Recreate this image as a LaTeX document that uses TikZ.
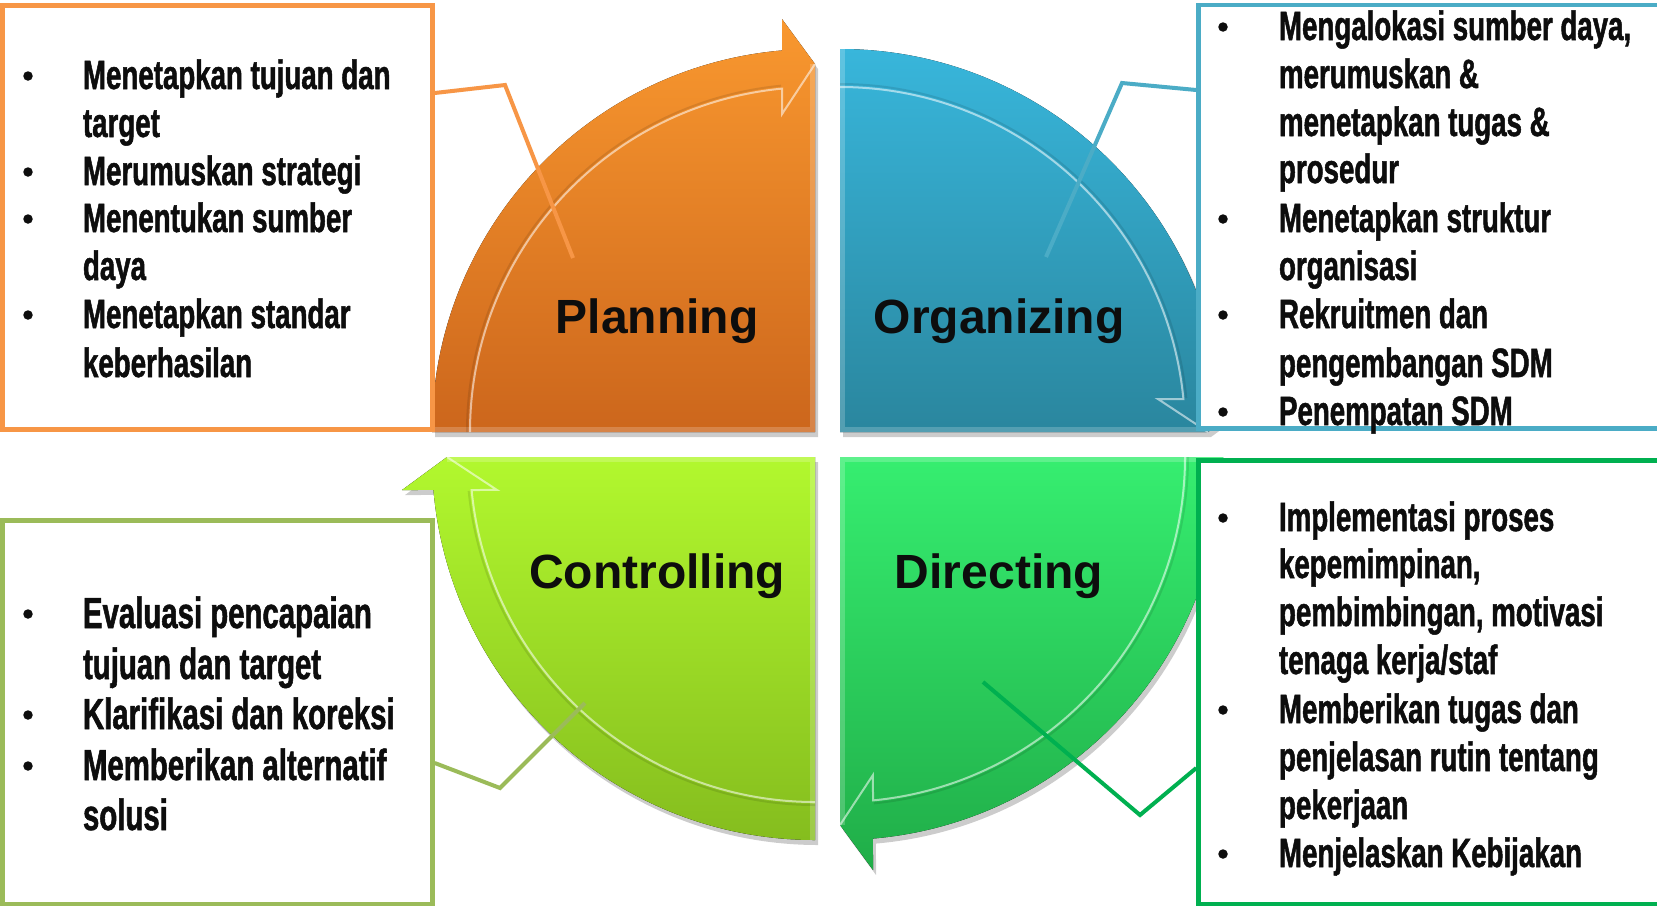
\documentclass[tikz,border=0pt]{standalone}
\usepackage{fontspec}
\setmainfont{Liberation Sans}
\newfontfamily\bodyf{Liberation Sans}[FakeStretch=0.675, FakeBold=1.2]
\definecolor{orgline}{HTML}{F79646}
\definecolor{bluline}{HTML}{4BACC6}
\definecolor{grnline}{HTML}{00B050}
\definecolor{limline}{HTML}{9BBB59}
\definecolor{txt}{HTML}{0D0D0D}
\definecolor{pTop}{HTML}{F9982F}
\definecolor{pBot}{HTML}{CC661C}
\definecolor{oTop}{HTML}{38B6DB}
\definecolor{oBot}{HTML}{2A869E}
\definecolor{dTop}{HTML}{36EE70}
\definecolor{dBot}{HTML}{20AD48}
\definecolor{cTop}{HTML}{B2F82E}
\definecolor{cBot}{HTML}{85BD1E}
\newcommand\quadpath[1]{(0,0) -- (#1:383) arc[start angle=#1, end angle={#1+85.06}, radius=383] -- ({#1+85.43}:414.3) -- ({#1+90}:368) -- cycle}
\newcommand\quadrant[5]{%
  \begin{scope}[shift={(#1,#2)}]
    \fill[black, opacity=.2, shift={(3,5)}] \quadpath{#3};
    \fill[top color=#4, bottom color=#5] \quadpath{#3};
    \begin{scope}
      \clip \quadpath{#3};
      \draw[white, opacity=.2, line width=10pt] (#3:383) -- (0,0) -- ({#3+90}:368);
    \end{scope}
    \draw[black, opacity=.10, line width=2pt] (#3:348) arc[start angle=#3, end angle={#3+84.4}, radius=348];
    \draw[white, opacity=.55, line width=2pt] (#3:345) arc[start angle=#3, end angle={#3+84.51}, radius=345] -- ({#3+84.08}:319.7) -- ({#3+90}:368);
  \end{scope}}
\tikzset{
  ln/.style={anchor=base west, inner sep=0pt, outer sep=0pt, text=txt, font=\bodyf\bfseries\fontsize{41}{48}\selectfont},
  lnc/.style={ln, font=\bodyf\bfseries\fontsize{43.5}{50}\selectfont},
  bul/.style={circle, fill=txt, inner sep=0pt, minimum size=9.5pt},
  head/.style={anchor=base, inner sep=0pt, text=txt, font=\bfseries\fontsize{48}{56}\selectfont},
  box/.style={draw=#1, fill=white, line width=4.5pt, inner sep=0pt},
  callout/.style={line width=4pt, draw=#1},
}
\begin{document}
\begin{tikzpicture}[x=1pt, y=-1pt]
\useasboundingbox (0,0) rectangle (1657,906);
\clip (0,0) rectangle (1657,906);
\fill[white] (0,0) rectangle (1657,906);

% quadrants
\quadrant{815}{432}{180}{pTop}{pBot}
\quadrant{840}{432}{270}{oTop}{oBot}
\quadrant{840}{457}{0}{dTop}{dBot}
\quadrant{815}{457}{90}{cTop}{cBot}

% headings
\node[head] (hp) at (657,333) {Planning};
\node[head] (ho) at (999,333) {Organizing};
\node[head] (hc) at (657,588) {Controlling};
\node[head] (hd) at (999,588) {Directing};

% boxes
\node[box=orgline, minimum width=430pt, minimum height=424pt] (pbox) at (217.5,217.5) {};
\node[box=bluline, minimum width=483pt, minimum height=423.5pt] (obox) at (1440,216.75) {};
\node[box=grnline, minimum width=483pt, minimum height=443.5pt] (dbox) at (1440,682.25) {};
\node[box=limline, minimum width=430pt, minimum height=383.5pt] (cbox) at (217.5,712.25) {};

% Planning list
\node[bul] (pb1) at (28,76) {};
\node[ln] (p1) at (83,89) {Menetapkan tujuan dan};
\node[ln] (p2) at (83,137) {target};
\node[bul] (pb2) at (28,172) {};
\node[ln] (p3) at (83,185) {Merumuskan strategi};
\node[bul] (pb3) at (28,219) {};
\node[ln] (p4) at (83,232) {Menentukan sumber};
\node[ln] (p5) at (83,280) {daya};
\node[bul] (pb4) at (28,315) {};
\node[ln] (p6) at (83,328) {Menetapkan standar};
\node[ln] (p7) at (83,377) {keberhasilan};

% Organizing list
\node[bul] (ob1) at (1223,27) {};
\node[ln] (o1) at (1279,40) {Mengalokasi sumber daya,};
\node[ln] (o2) at (1279,88) {merumuskan \&};
\node[ln] (o3) at (1279,136) {menetapkan tugas \&};
\node[ln] (o4) at (1279,183) {prosedur};
\node[bul] (ob2) at (1223,219) {};
\node[ln] (o5) at (1279,232) {Menetapkan struktur};
\node[ln] (o6) at (1279,280) {organisasi};
\node[bul] (ob3) at (1223,315) {};
\node[ln] (o7) at (1279,328) {Rekruitmen dan};
\node[ln] (o8) at (1279,377) {pengembangan SDM};
\node[bul] (ob4) at (1223,412) {};
\node[ln] (o9) at (1279,425) {Penempatan SDM};

% Directing list
\node[bul] (db1) at (1223,518) {};
\node[ln] (d1) at (1279,531) {Implementasi proses};
\node[ln] (d2) at (1279,578) {kepemimpinan,};
\node[ln] (d3) at (1279,626) {pembimbingan, motivasi};
\node[ln] (d4) at (1279,674) {tenaga kerja/staf};
\node[bul] (db2) at (1223,710) {};
\node[ln] (d5) at (1279,723) {Memberikan tugas dan};
\node[ln] (d6) at (1279,771) {penjelasan rutin tentang};
\node[ln] (d7) at (1279,819) {pekerjaan};
\node[bul] (db3) at (1223,854) {};
\node[ln] (d8) at (1279,867) {Menjelaskan Kebijakan};

% Controlling list
\node[bul] (cb1) at (28,614) {};
\node[lnc] (c1) at (83,628) {Evaluasi pencapaian};
\node[lnc] (c2) at (83,679) {tujuan dan target};
\node[bul] (cb2) at (28,715) {};
\node[lnc] (c3) at (83,729) {Klarifikasi dan koreksi};
\node[bul] (cb3) at (28,766) {};
\node[lnc] (c4) at (83,780) {Memberikan alternatif};
\node[lnc] (c5) at (83,830) {solusi};

% callouts
\coordinate (pa0) at (0,93);
\coordinate (pa1) at (505,85);
\coordinate (pa2) at (573,258);
\draw[callout=orgline] (pbox.east |- pa0) -- (pa1) -- (pa2);

\coordinate (oa0) at (0,90);
\coordinate (oa1) at (1122,83);
\coordinate (oa2) at (1046,257);
\draw[callout=bluline] (obox.west |- oa0) -- (oa1) -- (oa2);

\coordinate (da0) at (0,768);
\coordinate (da1) at (1140,815);
\coordinate (da2) at (983,682);
\draw[callout=grnline] (dbox.west |- da0) -- (da1) -- (da2);

\coordinate (ca0) at (0,763);
\coordinate (ca1) at (500,788);
\coordinate (ca2) at (585,703);
\draw[callout=limline] (cbox.east |- ca0) -- (ca1) -- (ca2);
\end{tikzpicture}
\end{document}
